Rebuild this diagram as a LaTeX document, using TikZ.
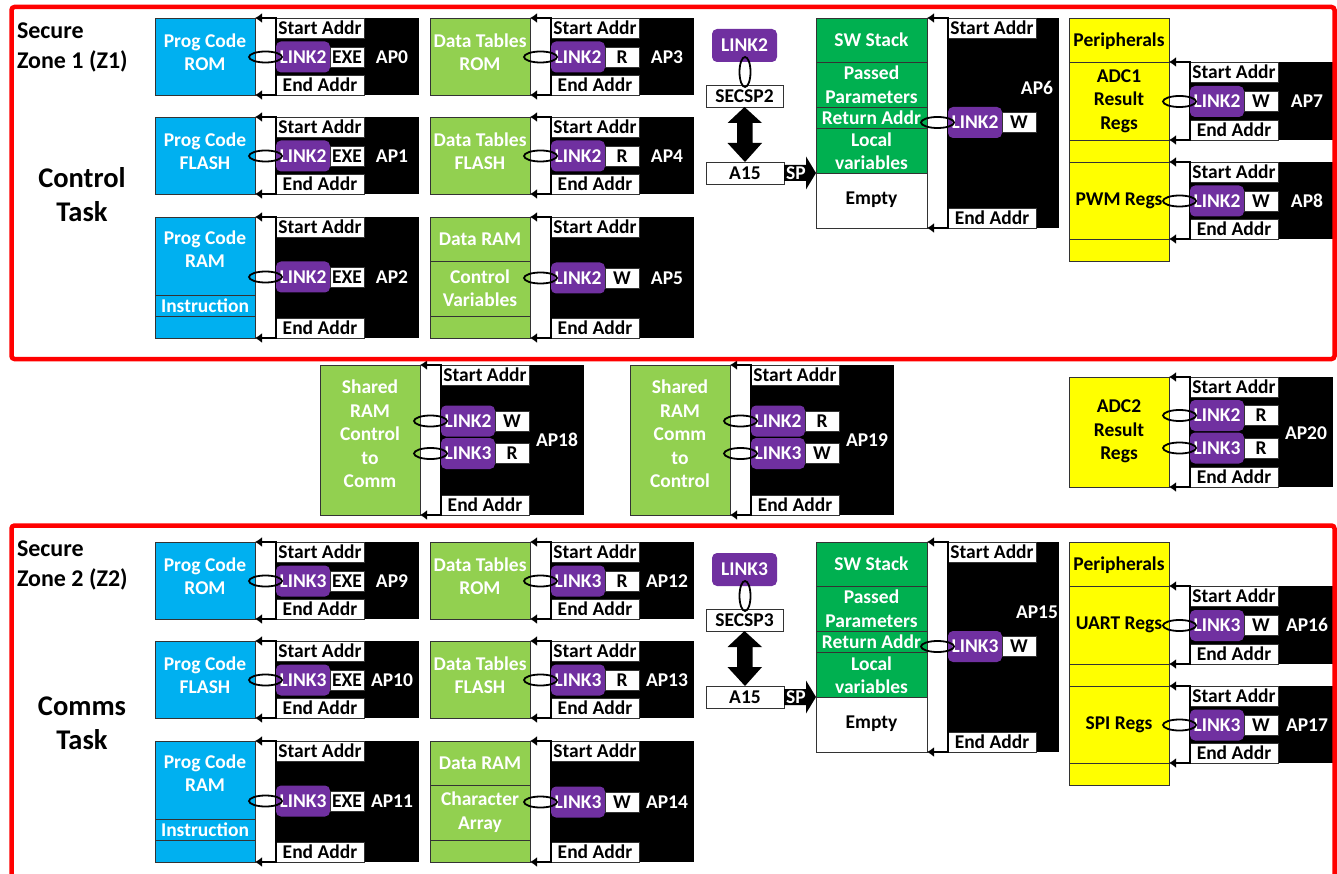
\documentclass[tikz,border=0pt]{standalone}
\usepackage{fontspec}
\setmainfont{Carlito}
\usetikzlibrary{arrows.meta,shapes.geometric}
\definecolor{cblue}{HTML}{00B0F0}
\definecolor{cgreen}{HTML}{92D050}
\definecolor{cstk}{HTML}{00B050}
\definecolor{cpurple}{HTML}{7030A0}
\definecolor{cyel}{HTML}{FFFF00}
\definecolor{cred}{HTML}{FF0000}
\newcommand\myft{\fontsize{19.5}{23.5}\selectfont\bfseries}
\newcommand\zft{\fontsize{24}{30}\selectfont\bfseries}
\newcommand\tft{\fontsize{28.5}{34}\selectfont\bfseries}
\tikzset{
  nbase/.style={inner sep=0pt, outer sep=0pt, font=\myft},
  memb/.style={nbase, draw=black!80, line width=0.8pt, anchor=north west, minimum width=100pt},
  bluem/.style={memb, fill=cblue},
  greenm/.style={memb, fill=cgreen},
  yelm/.style={memb, fill=cyel},
  stkm/.style={memb, fill=cstk, minimum width=111pt},
  wtxt/.style={nbase, text=white, align=center},
  btxt/.style={nbase, text=black, align=center},
  blk/.style={nbase, fill=black, anchor=north west},
  addr/.style={nbase, draw=black!80, line width=0.8pt, fill=white, anchor=north west, minimum width=88pt, minimum height=20pt},
  lnk/.style={nbase, fill=cpurple, rounded corners=5pt, text=white, anchor=west, minimum width=54pt, minimum height=31pt},
  perm/.style={nbase, draw=black!80, line width=0.8pt, fill=white, anchor=west, minimum width=34pt, minimum height=20pt},
  ring/.style={draw=black, ellipse, line width=1.8pt, minimum width=33pt, minimum height=11pt, inner sep=0pt, outer sep=0pt},
  brk/.style={draw=black, line width=1.8pt, arrows={Latex[length=7pt,width=10pt]-Latex[length=7pt,width=10pt]}},
  zonefr/.style={draw=cred, line width=4.5pt, rounded corners=3pt},
}
% #1 name, #2 x of bracket line, #3 top, #4 height, #5 memory node, #6 black width
\newcommand\apbk[6]{%
  \node[blk, minimum width=#6pt, minimum height=#4pt] (#1-bk) at (#2,#3) {};
  \node[addr] (#1-sa) at (#2,#3) {Start Addr};
  \node[addr, anchor=south west] (#1-ea) at (#2,#3+#4) {End Addr};
  \draw[brk] (#5.north east) -- (#1-bk.north west) -- (#1-bk.south west) -- (#5.south east);
}
% #1 name, #2 x of bracket line, #3 y centre, #4 link text, #5 permission
\newcommand\aplink[5]{%
  \node[lnk] (#1) at (#2,#3) {#4};
  \node[perm] (#1-p) at (#1.east) {#5};
  \node[ring] (#1-r) at (#2-10.5,#3) {};
}
% #1 prefix, #2 dy, #3 link, #4 AP base, #5 RAM text, #6 periph 1, #7 periph 2, #8 SECSP
\newcommand\zonebody[8]{%
\begin{scope}[yshift=-#2pt]
% program code column
\node[bluem, minimum height=77pt] (#1m0) at (155,18) {};
\node[wtxt] (#1t0) at (205,52) {Prog Code\\ROM};
\apbk{#1a0}{276}{18}{77}{#1m0}{143}
\aplink{#1k0}{276}{57}{#3}{EXE}
\node[wtxt] (#1l0) at (392,57) {AP\the\numexpr#4+0\relax};
\node[bluem, minimum height=77pt] (#1m1) at (155,117) {};
\node[wtxt] (#1t1) at (205,151) {Prog Code\\FLASH};
\apbk{#1a1}{276}{117}{77}{#1m1}{143}
\aplink{#1k1}{276}{156}{#3}{EXE}
\node[wtxt] (#1l1) at (392,156) {AP\the\numexpr#4+1\relax};
\node[bluem, minimum height=121pt] (#1m2) at (155,217) {};
\node[bluem, minimum height=21pt] (#1m2i) at (155,295) {};
\node[wtxt] (#1t2) at (205,249) {Prog Code\\RAM};
\node[wtxt] (#1t2i) at (205,305.5) {Instruction};
\apbk{#1a2}{276}{217}{121}{#1m2}{143}
\aplink{#1k2}{276}{277}{#3}{EXE}
\node[wtxt] (#1l2) at (392,277) {AP\the\numexpr#4+2\relax};
% data column
\node[greenm, minimum height=77pt] (#1m3) at (430,18) {};
\node[wtxt] (#1t3) at (480,52) {Data Tables\\ROM};
\apbk{#1a3}{551}{18}{77}{#1m3}{143}
\aplink{#1k3}{551}{57}{#3}{R}
\node[wtxt] (#1l3) at (667,57) {AP\the\numexpr#4+3\relax};
\node[greenm, minimum height=77pt] (#1m4) at (430,117) {};
\node[wtxt] (#1t4) at (480,151) {Data Tables\\FLASH};
\apbk{#1a4}{551}{117}{77}{#1m4}{143}
\aplink{#1k4}{551}{156}{#3}{R}
\node[wtxt] (#1l4) at (667,156) {AP\the\numexpr#4+4\relax};
\node[greenm, minimum height=121pt] (#1m5) at (430,217) {};
\node[greenm, minimum height=55pt] (#1m5c) at (430,261) {};
\node[wtxt] (#1t5) at (480,239) {Data RAM};
\node[wtxt] (#1t5c) at (480,288) {#5};
\apbk{#1a5}{551}{217}{121}{#1m5}{143}
\aplink{#1k5}{551}{278}{#3}{W}
\node[wtxt] (#1l5) at (667,278) {AP\the\numexpr#4+5\relax};
% stack pointer
\node[lnk, anchor=center, minimum width=65pt, minimum height=33pt] (#1sl) at (744.5,45.5) {#3};
\node[addr, anchor=center, minimum width=77pt, minimum height=22pt] (#1sp) at (744.5,96) {#8};
\node[ring, minimum width=11pt, minimum height=30pt] (#1sr) at (745,72) {};
\node[addr, anchor=center, minimum width=78pt, minimum height=22pt] (#1a15) at (745,173) {A15};
\fill (744.5,107) -- (762,123) -- (752.5,123) -- (752.5,143) -- (762,143) -- (745,162)
      -- (727.5,143) -- (737,143) -- (737,123) -- (727.5,123) -- cycle;
\fill (784,165) -- (806,165) -- (806,156.5) -- (816,173) -- (806,189.5) -- (806,181) -- (784,181) -- cycle;
\node[wtxt] (#1spt) at (796,173) {SP};
% stack
\node[stkm, minimum height=44pt] (#1s1) at (816,18) {};
\node[stkm, minimum height=45pt] (#1s2) at (816,62) {};
\node[stkm, minimum height=21pt] (#1s3) at (816,107) {};
\node[stkm, minimum height=45pt] (#1s4) at (816,128) {};
\node[memb, fill=white, minimum width=111pt, minimum height=55pt] (#1s5) at (816,173) {};
\node[nbase, anchor=north west, minimum width=111pt, minimum height=210pt] (#1sm) at (816,18) {};
\node[wtxt] (#1u1) at (871.5,40) {SW Stack};
\node[wtxt] (#1u2) at (871.5,84.5) {Passed\\Parameters};
\node[wtxt] (#1u3) at (871.5,118) {Return Addr};
\node[wtxt] (#1u4) at (871.5,151) {Local\\variables};
\node[btxt] (#1u5) at (871.5,200) {Empty};
\apbk{#1a6}{948}{18}{210}{#1sm}{111}
\aplink{#1k6}{948}{122.5}{#3}{W}
\node[wtxt] (#1l6) at (1037,88) {AP\the\numexpr#4+6\relax};
% peripherals
\node[yelm, minimum height=44pt] (#1p0) at (1069,18) {};
\node[yelm, minimum height=78pt] (#1p1) at (1069,62) {};
\node[yelm, minimum height=22pt] (#1p2) at (1069,140) {};
\node[yelm, minimum height=77pt] (#1p3) at (1069,162) {};
\node[yelm, minimum height=22pt] (#1p4) at (1069,239) {};
\node[btxt] (#1v0) at (1119,41) {Peripherals};
\node[btxt] (#1v1) at (1119,101) {#6};
\node[btxt] (#1v3) at (1119,201) {#7};
\apbk{#1a7}{1190}{62}{78}{#1p1}{143}
\aplink{#1k7}{1190}{101.5}{#3}{W}
\node[wtxt] (#1l7) at (1307,101) {AP\the\numexpr#4+7\relax};
\apbk{#1a8}{1190}{162}{77}{#1p3}{143}
\aplink{#1k8}{1190}{201}{#3}{W}
\node[wtxt] (#1l8) at (1307,201) {AP\the\numexpr#4+8\relax};
\end{scope}}

\begin{document}
\begin{tikzpicture}[x=1pt,y=-1pt]
\useasboundingbox (0,0) rectangle (1337,874);
\clip (0,0) rectangle (1337,874);
\zonebody{z1}{0}{LINK2}{0}{Control\\Variables}{ADC1\\Result\\Regs}{PWM Regs}{SECSP2}
\zonebody{z2}{524}{LINK3}{9}{Character\\Array}{UART Regs}{SPI Regs}{SECSP3}
% shared RAM and ADC2
\node[greenm, minimum height=150pt] (m18) at (320,365) {};
\node[wtxt] (t18) at (370,434) {Shared\\RAM\\Control\\to\\Comm};
\apbk{a18}{441}{365}{150}{m18}{143}
\aplink{k18a}{441}{421}{LINK2}{W}
\aplink{k18b}{441}{453.5}{LINK3}{R}
\node[wtxt] (l18) at (557,440) {AP18};
\node[greenm, minimum height=150pt] (m19) at (630,365) {};
\node[wtxt] (t19) at (680,434) {Shared\\RAM\\Comm\\to\\Control};
\apbk{a19}{751}{365}{150}{m19}{143}
\aplink{k19a}{751}{421}{LINK2}{R}
\aplink{k19b}{751}{453.5}{LINK3}{W}
\node[wtxt] (l19) at (867,440) {AP19};
\node[yelm, minimum height=110pt] (m20) at (1069,377) {};
\node[btxt] (t20) at (1119,431.5) {ADC2\\Result\\Regs};
\apbk{a20}{1190}{377}{110}{m20}{143}
\aplink{k20a}{1190}{415.5}{LINK2}{R}
\aplink{k20b}{1190}{448}{LINK3}{R}
\node[wtxt] (l20) at (1306,433) {AP20};
% zones
\draw[zonefr] (11.5,7) rectangle (1334.5,359);
\draw[zonefr] (11.5,525.5) rectangle (1334.5,900);
\node[nbase, font=\zft, align=left, anchor=west] (zl1) at (17,47.5) {Secure\\Zone 1 (Z1)};
\node[nbase, font=\tft, align=center] (tk1) at (82,194.5) {Control\\Task};
\node[nbase, font=\zft, align=left, anchor=west] (zl2) at (17,565) {Secure\\Zone 2 (Z2)};
\node[nbase, font=\tft, align=center] (tk2) at (82,723.5) {Comms\\Task};
\end{tikzpicture}
\end{document}
